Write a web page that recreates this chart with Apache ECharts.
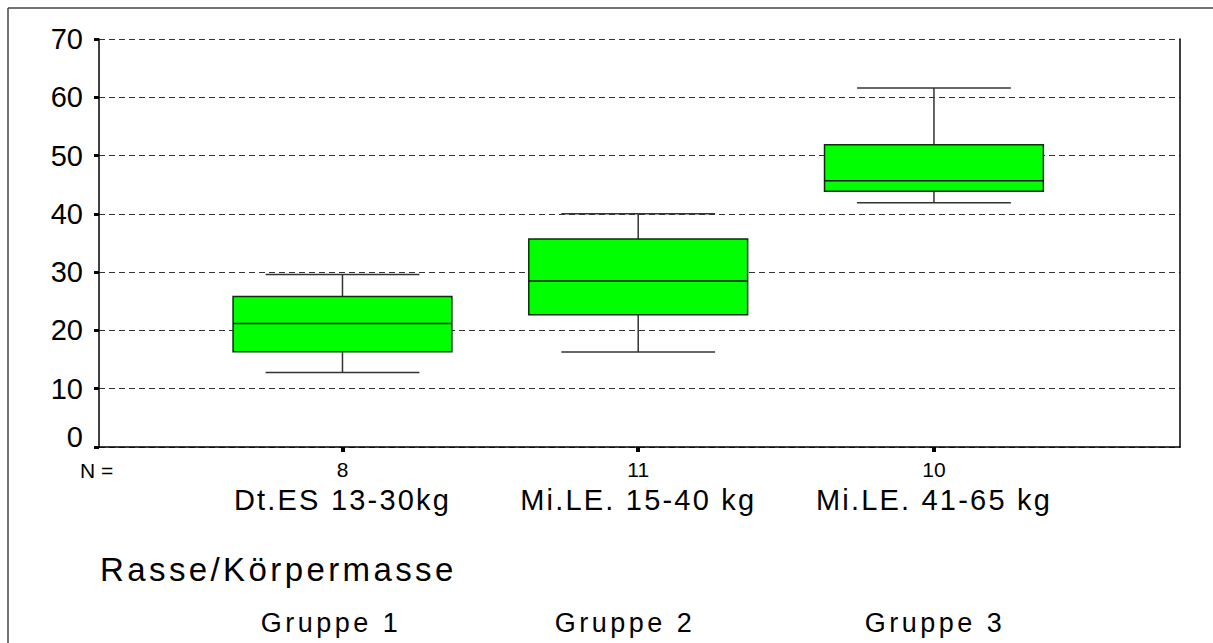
<!DOCTYPE html>
<html>
<head>
<meta charset="utf-8">
<script src="https://cdn.jsdelivr.net/npm/echarts@6/dist/echarts.min.js"></script>
<style>
html,body{margin:0;padding:0;background:#fff;}
#main{width:1213px;height:643px;}
</style>
</head>
<body>
<div id="main"></div>
<script>
// ---- data ----
const categories = ['Dt.ES 13-30kg', 'Mi.LE. 15-40 kg', 'Mi.LE. 41-65 kg'];
const nCounts = [8, 11, 10];
const groupLabels = ['Gruppe 1', 'Gruppe 2', 'Gruppe 3'];
const whiskerLow = [12.8, 16.3, 41.9];
const q1 = [16.35, 22.7, 43.9];
const median = [21.2, 28.5, 45.7];
const q3 = [25.8, 35.7, 51.85];
const whiskerHigh = [29.6, 40.0, 61.6];
const yTicks = [0, 10, 20, 30, 40, 50, 60, 70];
const xTitle = 'Rasse/Körpermasse';
const nLabel = 'N =';

const positions = categories.map((c, i) => i + 1);
const boxData = positions.map((p, i) => [p, whiskerLow[i], q1[i], median[i], q3[i], whiskerHigh[i]]);

const FONT = "'Liberation Sans', Arial, sans-serif";
const chart = echarts.init(document.getElementById('main'), null, {renderer: 'svg'});

const option = {
  animation: false,
  backgroundColor: '#fff',
  textStyle: {fontFamily: FONT},
  grid: {left: 99, right: 33, top: 39, bottom: 196, containLabel: false},
  xAxis: {
    type: 'value',
    min: 0.1767,
    max: 3.832,
    splitLine: {show: false},
    axisLine: {show: true, onZero: false, lineStyle: {color: '#000', width: 1.5}},
    axisTick: {show: true, customValues: positions, length: 5, lineStyle: {color: '#000', width: 4}},
    axisLabel: {
      show: true,
      customValues: positions,
      margin: 10,
      verticalAlign: 'top',
      formatter: function (v) {
        const i = Math.round(v) - 1;
        return '{n|' + nCounts[i] + '}\n{c|' + categories[i] + '}';
      },
      rich: {
        n: {fontSize: 21, lineHeight: 24, color: '#000', fontFamily: FONT},
        c: {fontSize: 29, lineHeight: 38, color: '#000', fontFamily: FONT}
      }
    }
  },
  yAxis: [{
    type: 'value',
    min: 0,
    max: 70,
    interval: 10,
    axisLine: {show: true, lineStyle: {color: '#000', width: 1.5}},
    axisTick: {show: true, length: 5, lineStyle: {color: '#000', width: 3}},
    splitLine: {show: true, lineStyle: {color: '#333', width: 1, type: [6, 4]}},
    axisLabel: {
      margin: 16,
      color: '#000',
      fontSize: 29,
      fontFamily: FONT,
      formatter: function (v) { return v === 0 ? '{z|0}' : '{d|' + v + '}'; },
      rich: {
        z: {fontSize: 29, fontFamily: FONT, color: '#000', padding: [0, 0, 20, 0]},
        d: {fontSize: 29, fontFamily: FONT, color: '#000'}
      }
    }
  }, {
    type: 'value',
    position: 'right',
    min: 0,
    max: 70,
    interval: 10,
    axisLine: {show: true, lineStyle: {color: '#000', width: 1.5}},
    axisTick: {show: false},
    axisLabel: {show: false},
    splitLine: {show: false}
  }],
  graphic: [
    {type: 'line', shape: {x1: 8, y1: 8, x2: 1213, y2: 8}, style: {stroke: '#444', lineWidth: 1.5}},
    {type: 'line', shape: {x1: 8, y1: 8, x2: 8, y2: 643}, style: {stroke: '#444', lineWidth: 1.5}},
    {type: 'text', x: 80, y: 470, style: {text: nLabel, font: '21px ' + FONT, fill: '#000', textVerticalAlign: 'middle'}},
    {type: 'text', x: 100, y: 569, style: {text: xTitle, font: '33px ' + FONT, fill: '#000', textVerticalAlign: 'middle'}},
    {type: 'text', x: 331, y: 623, style: {text: groupLabels[0], font: '27px ' + FONT, fill: '#000', textAlign: 'center', textVerticalAlign: 'middle'}},
    {type: 'text', x: 625, y: 623, style: {text: groupLabels[1], font: '27px ' + FONT, fill: '#000', textAlign: 'center', textVerticalAlign: 'middle'}},
    {type: 'text', x: 935, y: 623, style: {text: groupLabels[2], font: '27px ' + FONT, fill: '#000', textAlign: 'center', textVerticalAlign: 'middle'}}
  ],
  series: [{
    type: 'custom',
    data: boxData,
    encode: {x: 0, y: [1, 2, 3, 4, 5]},
    renderItem: function (params, api) {
      const x = api.value(0);
      const lo = api.coord([x, api.value(1)]);
      const b1 = api.coord([x, api.value(2)]);
      const md = api.coord([x, api.value(3)]);
      const b3 = api.coord([x, api.value(4)]);
      const hi = api.coord([x, api.value(5)]);
      const band = api.size([1, 0])[0];
      const bw = band * 0.37, cw = band * 0.26;
      const cx = lo[0];
      const ws = {stroke: '#333', lineWidth: 1.5};
      return {
        type: 'group',
        children: [
          {type: 'line', shape: {x1: cx, y1: hi[1], x2: cx, y2: b3[1]}, style: ws},
          {type: 'line', shape: {x1: cx, y1: b1[1], x2: cx, y2: lo[1]}, style: ws},
          {type: 'line', shape: {x1: cx - cw, y1: hi[1], x2: cx + cw, y2: hi[1]}, style: ws},
          {type: 'line', shape: {x1: cx - cw, y1: lo[1], x2: cx + cw, y2: lo[1]}, style: ws},
          {type: 'rect', shape: {x: cx - bw, y: b3[1], width: 2 * bw, height: b1[1] - b3[1]}, style: {fill: '#00ff00', stroke: '#0b2e0b', lineWidth: 1.5}},
          {type: 'line', shape: {x1: cx - bw, y1: md[1], x2: cx + bw, y2: md[1]}, style: {stroke: '#111', lineWidth: 1.5}}
        ]
      };
    }
  }]
};
chart.setOption(option);

function applySpacing() {
  document.querySelectorAll('#main text').forEach(function (t) {
    const s = t.textContent;
    let ls = null;
    if (categories.indexOf(s) >= 0) ls = 2.2;
    else if (s === xTitle) ls = 3.4;
    else if (groupLabels.indexOf(s) >= 0) ls = 3.5;
    if (ls !== null) t.style.letterSpacing = ls + 'px';
  });
}
chart.on('rendered', applySpacing);
chart.on('finished', applySpacing);
applySpacing();
setTimeout(applySpacing, 0);
</script>
</body>
</html>
